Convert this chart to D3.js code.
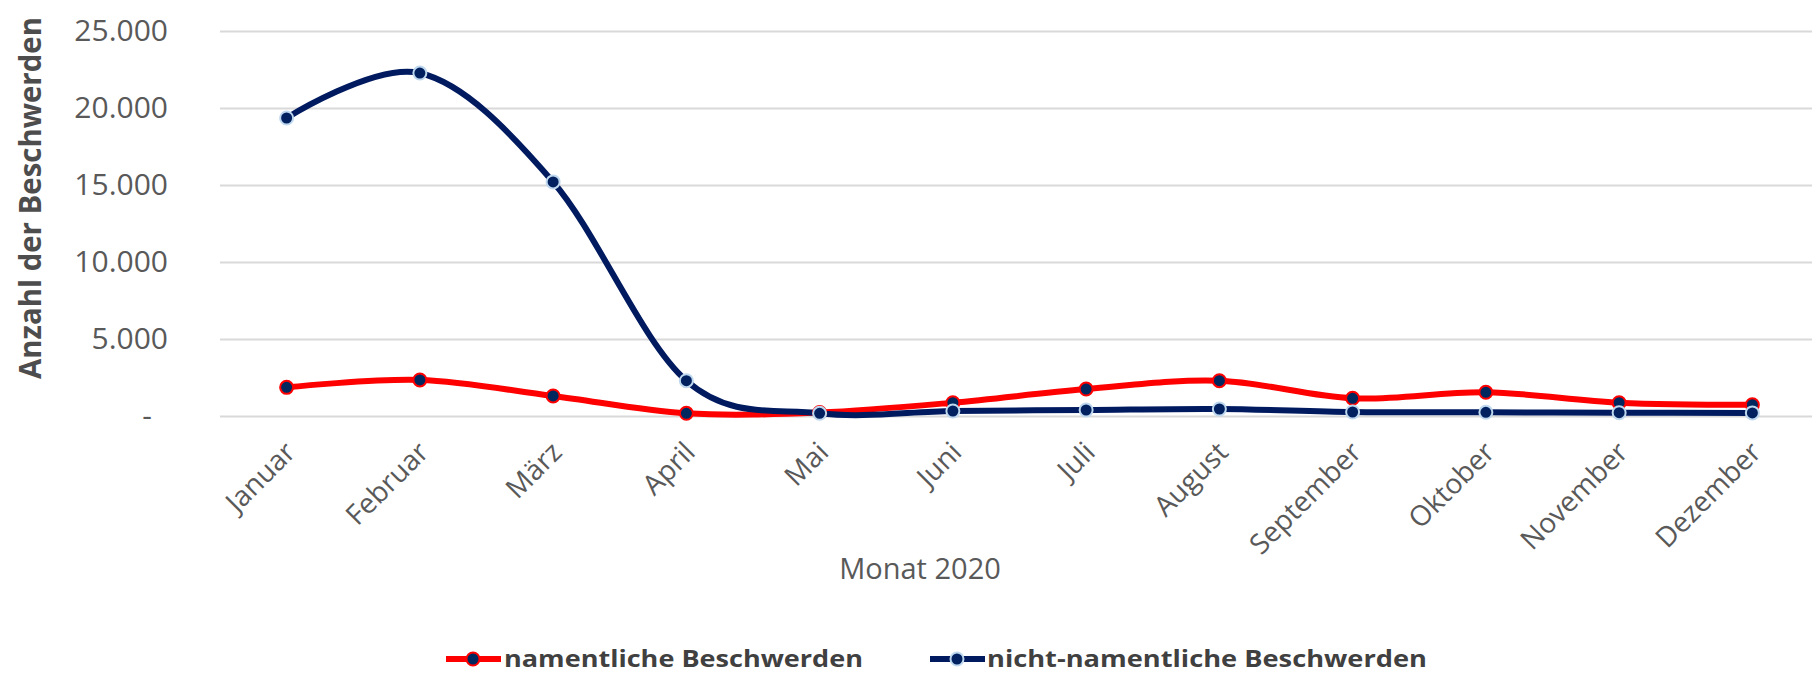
<!DOCTYPE html>
<html>
<head>
<meta charset="utf-8">
<script src="https://cdn.jsdelivr.net/npm/d3@7"></script>
<style>
  body { margin: 0; background: #fff; }
  text { font-family: "Open Sans", "DejaVu Sans", sans-serif; }
</style>
</head>
<body>
<div id="chart"></div>
<script>
// data
const months = ["Januar", "Februar", "März", "April", "Mai", "Juni", "Juli",
    "August", "September", "Oktober", "November", "Dezember"];
const namentlich = [1860, 2340, 1300, 175, 230, 865, 1750, 2290, 1150, 1540, 865, 735];
const nichtNamentlich = [19350, 22270, 15200, 2290, 175, 325, 390, 455, 260, 240, 215, 200];
const yTicks = [0, 5000, 10000, 15000, 20000, 25000];
const seriesNames = ["namentliche Beschwerden", "nicht-namentliche Beschwerden"];

const width = 1816, height = 674;
const plotLeft = 220, plotRight = 1819, plotTop = 31, plotBottom = 416;

const svg = d3.select("#chart").append("svg")
    .attr("width", width)
    .attr("height", height);

const x = d3.scalePoint().domain(months).range([plotLeft, plotRight]).padding(0.5);
const y = d3.scaleLinear().domain([0, 25000]).range([plotBottom, plotTop]);

const de = d3.formatLocale({ decimal: ",", thousands: ".", grouping: [3], currency: ["", "€"] });
const fmt = de.format(",");

// y axis + gridlines
const yAxis = svg.append("g")
    .attr("transform", `translate(${plotLeft},0)`)
    .call(d3.axisLeft(y).tickValues(yTicks)
        .tickSize(-(1812 - plotLeft))
        .tickPadding(52)
        .tickFormat(d => d === 0 ? "-" : fmt(d)));
yAxis.select(".domain").remove();
yAxis.selectAll(".tick line").attr("stroke", "#d9d9d9").attr("stroke-width", 2);
yAxis.selectAll(".tick text")
    .attr("fill", "#595959")
    .style("font-size", "30px")
    .attr("dx", d => d === 0 ? -16 : 0);

// x axis labels
const xAxis = svg.append("g")
    .attr("transform", `translate(0,${plotBottom})`)
    .call(d3.axisBottom(x).tickSize(0).tickPadding(0));
xAxis.select(".domain").remove();
xAxis.selectAll(".tick text")
    .attr("fill", "#595959")
    .style("font-size", "28px")
    .attr("text-anchor", "end")
    .attr("dy", 0)
    .attr("transform", "translate(10,38) rotate(-45)");

// axis titles
svg.append("text")
    .attr("x", 920).attr("y", 579)
    .attr("text-anchor", "middle")
    .attr("fill", "#595959")
    .style("font-size", "29px")
    .text("Monat 2020");

svg.append("text")
    .attr("transform", "translate(41,198) rotate(-90)")
    .attr("text-anchor", "middle")
    .attr("fill", "#4d4d4d")
    .style("font-size", "31px")
    .style("font-weight", "bold")
    .attr("textLength", 362)
    .attr("lengthAdjust", "spacingAndGlyphs")
    .text("Anzahl der Beschwerden");

// lines
const line = d3.line()
    .x((d, i) => x(months[i]))
    .y(d => y(d))
    .curve(d3.curveCatmullRom.alpha(0));

const series = [
    { name: seriesNames[0], values: namentlich, color: "#ff0000", mark: "#00285e", edge: "#ff0000" },
    { name: seriesNames[1], values: nichtNamentlich, color: "#001a60", mark: "#00205f", edge: "#bdd7ee" }
];

series.forEach(s => {
    svg.append("path")
        .datum(s.values)
        .attr("fill", "none")
        .attr("stroke", s.color)
        .attr("stroke-width", 6)
        .attr("d", line);
});

series.forEach(s => {
    svg.append("g").selectAll("circle")
        .data(s.values)
        .join("circle")
        .attr("cx", (d, i) => x(months[i]))
        .attr("cy", d => y(d))
        .attr("r", 6.5)
        .attr("fill", s.mark)
        .attr("stroke", s.edge)
        .attr("stroke-width", 2);
});

// legend
const legendPos = [{ lx: 446, tx: 504, tw: 359 }, { lx: 930, tx: 987, tw: 440 }];
series.forEach((s, i) => {
    const p = legendPos[i];
    const g = svg.append("g");
    g.append("line")
        .attr("x1", p.lx).attr("x2", p.lx + 55)
        .attr("y1", 659).attr("y2", 659)
        .attr("stroke", s.color).attr("stroke-width", 6);
    g.append("circle")
        .attr("cx", p.lx + 27).attr("cy", 659).attr("r", 6.5)
        .attr("fill", s.mark).attr("stroke", s.edge).attr("stroke-width", 2);
    g.append("text")
        .attr("x", p.tx).attr("y", 667)
        .attr("fill", "#404040")
        .style("font-size", "23px")
        .style("font-weight", "bold")
        .attr("textLength", p.tw)
        .attr("lengthAdjust", "spacingAndGlyphs")
        .text(s.name);
});
</script>
</body>
</html>
